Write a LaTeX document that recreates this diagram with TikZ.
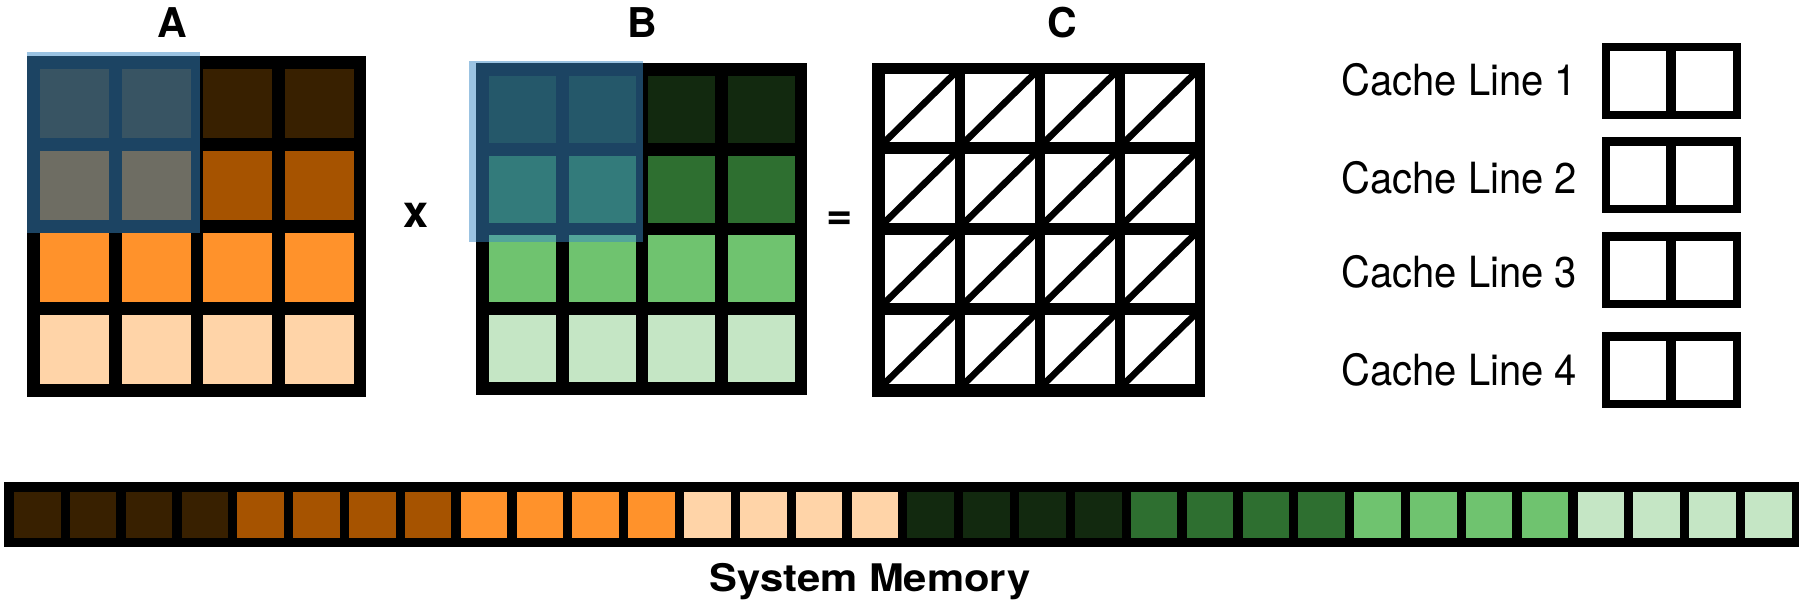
\documentclass[tikz,border=0pt]{standalone}
\usepackage{fontspec}
\setmainfont{TeX Gyre Heros}
\newfontfamily\cachefont[FakeStretch=0.93]{TeX Gyre Heros}
\newfontfamily\memfont[FakeStretch=1.1]{TeX Gyre Heros}
\usetikzlibrary{positioning}
\definecolor{aone}{RGB}{56,32,0}
\definecolor{atwo}{RGB}{166,83,0}
\definecolor{athree}{RGB}{255,146,43}
\definecolor{afour}{RGB}{255,212,168}
\definecolor{bone}{RGB}{18,41,15}
\definecolor{btwo}{RGB}{46,111,48}
\definecolor{bthree}{RGB}{111,195,111}
\definecolor{bfour}{RGB}{197,230,197}
\definecolor{tile}{RGB}{56,136,198}

\begin{document}
\begin{tikzpicture}[x=0.5pt,y=-0.5pt]
                    \tikzstyle{every node}+=[inner sep=0pt]
                    \tikzstyle{matlabel}=[font=\bfseries\fontsize{20.5}{22}\selectfont, anchor=base]
                    \tikzstyle{opsign}=[font=\bfseries\fontsize{22.5}{24}\selectfont, anchor=center]
                    \tikzstyle{cachelabel}=[font=\cachefont\fontsize{21.5}{24}\selectfont, anchor=base west]
                    \tikzstyle{cachebox}=[draw, line width=4.15pt, minimum width=65.5pt, minimum height=33.85pt]
                    \tikzstyle{tileblock}=[fill=tile, fill opacity=0.5]
                    \useasboundingbox (0,0) rectangle (1802,606);
                    % matrix A
                    \fill [black] (27,56) rectangle (366,397);
                    \foreach \c [count=\r from 0] in {aone,atwo,athree,afour}
                      \foreach \k in {0,...,3}
                        \fill [\c] (40+81.5*\k,69+82*\r) rectangle ++(69,69);
                    \fill [tileblock] (27,52) rectangle (200,233);
                    \node [matlabel] (labA) at (172,37) {A};
                    \node [opsign] (times) at (416,215) {x};
                    % matrix B
                    \fill [black] (476,63) rectangle (807,395);
                    \foreach \c [count=\r from 0] in {bone,btwo,bthree,bfour}
                      \foreach \k in {0,...,3}
                        \fill [\c] (489+79.7*\k,76+79.7*\r) rectangle ++(67,67);
                    \fill [tileblock] (469,61) rectangle (643,242);
                    \node [matlabel] (labB) at (642,37) {B};
                    \node [opsign] (equals) at (839.5,220.5) {=};
                    % matrix C
                    \fill [black] (872,63) rectangle (1205,397);
                    \foreach \r in {0,...,3}
                      \foreach \k in {0,...,3} {
                        \fill [white] (884.5+80*\k,73.5+80.5*\r) rectangle ++(70,68.5);
                        \draw [line width=3.3pt] (884.5+80*\k,142+80.5*\r) -- (954.5+80*\k,73.5+80.5*\r);
                      }
                    \node [matlabel] (labC) at (1062,37) {C};
                    % cache lines
                    \foreach \n/\yy/\bl in {1/81.15/95, 2/175.35/193, 3/270.2/287, 4/370.35/385} {
                      \node [cachebox] (cache\n) at (1671.35,\yy) {};
                      \draw [line width=5pt] (cache\n.north) -- (cache\n.south);
                      \node [cachelabel] (line\n) at (1341,\bl) {Cache Line \n};
                    }
                    % system memory
                    \fill [black] (4,482) rectangle (1799,547);
                    \foreach \c [count=\g from 0] in {aone,atwo,athree,afour,bone,btwo,bthree,bfour}
                      \foreach \k in {0,...,3}
                        \fill [\c] (14+55.84*4*\g+55.84*\k,491.7) rectangle ++(46.6,46.6);
                    \node [font=\memfont\bfseries\fontsize{19}{22}\selectfont, anchor=base] (sysmem) at (870,591) {System Memory};
\end{tikzpicture}
\end{document}
